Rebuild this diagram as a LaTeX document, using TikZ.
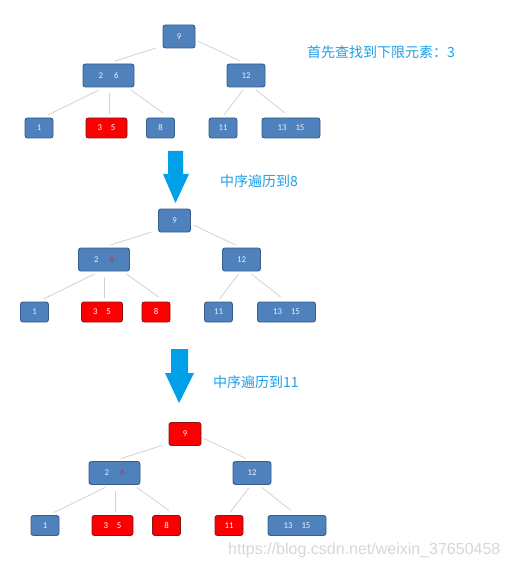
\documentclass[tikz,border=0pt]{standalone}
\usepackage{fontspec}
\setmainfont{Carlito}
\newfontfamily\cjk{Noto Sans CJK SC}
\newfontfamily\wmfont{Liberation Sans}
\usetikzlibrary{calc}
\definecolor{bfill}{RGB}{79,129,189}
\definecolor{bdraw}{RGB}{56,93,138}
\definecolor{rfill}{RGB}{250,0,0}
\definecolor{rdraw}{RGB}{140,20,20}
\definecolor{edgec}{RGB}{210,210,210}
\definecolor{cyanA}{RGB}{0,160,233}
\definecolor{cyanT}{RGB}{30,160,232}
\definecolor{sixc}{RGB}{192,48,80}
\definecolor{ltext}{RGB}{235,240,248}
\definecolor{wmc}{RGB}{215,215,215}
\tikzset{
 box/.style={draw=bdraw, fill=bfill, line width=0.9pt, rounded corners=2.5pt, text=ltext, font=\fontsize{8.8}{10}\selectfont, inner sep=0pt, minimum height=20pt},
 redbox/.style={box, draw=rdraw, fill=rfill, text=white},
 edge/.style={draw=edgec, line width=0.8pt},
 note/.style={text=cyanT, font=\cjk\fontsize{14}{16}\selectfont, anchor=west, inner sep=0pt},
 bigarrow/.style={fill=cyanA, draw=none},
 wm/.style={text=wmc, font=\wmfont\fontsize{16}{18}\selectfont, anchor=west, inner sep=0pt}
}
\newcommand{\btree}[7]{%
\begin{scope}[shift={#2}]
\node[#3, minimum width=32pt, minimum height=23pt] (#1a) at (179,36.5) {9};
\node[box, minimum width=51pt, minimum height=23pt] (#1b) at (108.5,75.5) {2\hspace{11pt}\textcolor{#4}{6}};
\node[box, minimum width=38pt, minimum height=23pt] (#1c) at (246,75.5) {12};
\node[box, minimum width=28pt] (#1d) at (39,128) {1};
\node[#5, minimum width=41pt] (#1e) at (106.5,128) {3\hspace{9pt}5};
\node[#6, minimum width=28pt] (#1f) at (160.5,128) {8};
\node[#7, minimum width=28pt] (#1g) at (223,128) {11};
\node[box, minimum width=58pt] (#1h) at (291,128) {13\hspace{9pt}15};
\draw[edge] ($(#1a)+(-23,11.5)$) -- ($(#1b)+(6.5,-14.5)$);
\draw[edge] ($(#1a)+(19,4.5)$) -- ($(#1c)+(-6,-14.5)$);
\draw[edge] ($(#1b)+(-9.5,14.5)$) -- ($(#1d)+(9,-13)$);
\draw[edge] ($(#1b)+(0.5,17.5)$) -- ($(#1e)+(2.5,-14)$);
\draw[edge] ($(#1b)+(22.5,14.5)$) -- ($(#1f)+(2.5,-15)$);
\draw[edge] ($(#1c)+(-3,14.5)$) -- ($(#1g)+(1,-13)$);
\draw[edge] ($(#1c)+(10,14.5)$) -- ($(#1h)+(-6,-15)$);
\end{scope}}
\begin{document}
\begin{tikzpicture}[x=1pt,y=-1pt]
\fill[white] (0,0) rectangle (509,569);
\useasboundingbox (0,0) rectangle (509,569);
\btree{p}{(0,0)}{box}{ltext}{redbox}{box}{box}
\btree{q}{(-4.5,184)}{box}{sixc}{redbox}{redbox}{box}
\btree{r}{(6,397.5)}{redbox}{sixc}{redbox}{redbox}{redbox}
\node[note] (t1) at (307,52) {首先查找到下限元素：3};
\node[note] (t2) at (220,181) {中序遍历到8};
\node[note] (t3) at (213,382) {中序遍历到11};
\fill[bigarrow] (168,151) -- (183,151) -- (183,174) -- (189,174) -- (175.5,203) -- (163,174) -- (168,174) -- cycle;
\fill[bigarrow] (171,349) -- (188,349) -- (188,373) -- (194,373) -- (179,403) -- (165,373) -- (171,373) -- cycle;
\node[wm] (wm) at (228,550) {https://blog.csdn.net/weixin\_37650458};
\end{tikzpicture}
\end{document}
